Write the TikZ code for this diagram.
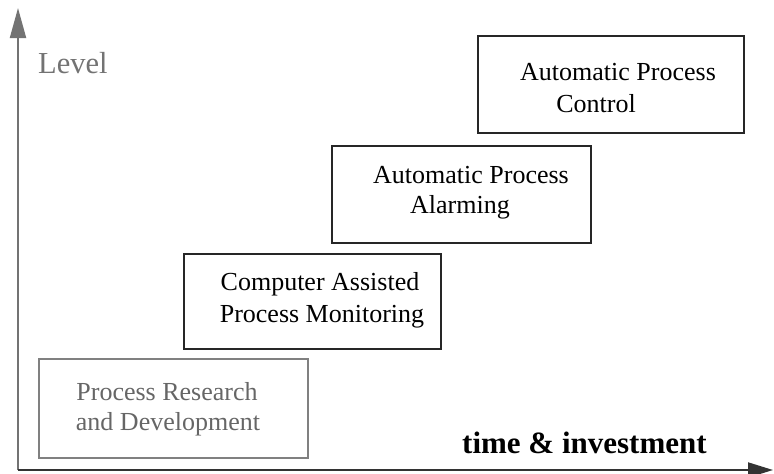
\documentclass[tikz,border=0pt]{standalone}
\usepackage{fontspec}
\setmainfont{Liberation Serif}
\usetikzlibrary{arrows.meta}
\begin{document}
\begin{tikzpicture}[x=1pt,y=-1pt,
  stage/.style={draw=black!85, line width=2.2pt, anchor=north west, inner sep=0pt},
  faintstage/.style={draw=black!50, line width=2pt, anchor=north west, inner sep=0pt},
  boxtext/.style={font=\fontsize{26}{31}\selectfont, anchor=base, inner sep=0pt},
  axisline/.style={line width=2pt}]
\useasboundingbox (0,0) rectangle (774,474);
% stage boxes
\node[faintstage, minimum width=269pt, minimum height=99pt] (b1) at (38,358) {};
\node[stage, minimum width=257pt, minimum height=95pt] (b2) at (183,253) {};
\node[stage, minimum width=259pt, minimum height=97pt] (b3) at (331,145) {};
\node[stage, minimum width=266pt, minimum height=97pt] (b4) at (477,35) {};
% texts
\node[boxtext, text=black!60] (t1a) at (167,400) {Process Research};
\node[boxtext, text=black!60] (t1b) at (168,430) {and Development};
\node[boxtext] (t2a) at (320,290) {Computer Assisted};
\node[boxtext] (t2b) at (322,322) {Process Monitoring};
\node[boxtext] (t3a) at (471,183) {Automatic Process};
\node[boxtext] (t3b) at (460,213) {Alarming};
\node[boxtext] (t4a) at (618,80) {Automatic Process};
\node[boxtext] (t4b) at (596,112) {Control};
% axes
\coordinate (o) at (18,470);
\coordinate (ytip) at (18,8);
\coordinate (xtip) at (773,470);
\draw[axisline, draw=black!55, -{Triangle[length=30pt,width=16pt,fill=black!55]}] (o) -- (ytip);
\draw[axisline, draw=black!80, -{Triangle[length=25pt,width=15pt,fill=black!80]}] (o) -- (xtip);
\node[font=\fontsize{30.5}{36}\selectfont, text=black!55, anchor=base west, inner sep=0pt] (lvl) at (38,73) {Level};
\node[font=\fontsize{31}{36}\selectfont\bfseries, anchor=base west, inner sep=0pt] (tim) at (462,453) {time \& investment};
\end{tikzpicture}
\end{document}
